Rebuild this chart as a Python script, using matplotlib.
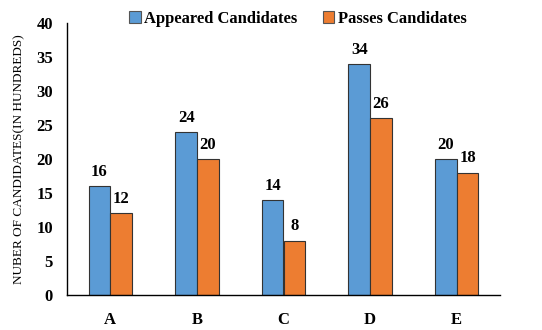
import matplotlib
matplotlib.use("Agg")
import matplotlib.pyplot as plt
import numpy as np

categories = ["A", "B", "C", "D", "E"]
appeared = [16, 24, 14, 34, 20]
passed = [12, 20, 8, 26, 18]
series_names = ["Appeared Candidates", "Passes Candidates"]
yticks = [0, 5, 10, 15, 20, 25, 30, 35, 40]

plt.rcParams['font.family'] = ['Liberation Serif', 'DejaVu Serif']

fig = plt.figure(figsize=(5.42, 3.30), dpi=100)
ax = fig.add_axes([67/542, 1-295/330, (500-67)/542, (295-23)/330])

x = np.arange(len(categories))
w = 0.25
b1 = ax.bar(x - w/2, appeared, w, color="#5b9bd5", edgecolor="#333333", linewidth=0.8, label=series_names[0])
b2 = ax.bar(x + w/2, passed, w, color="#ed7d31", edgecolor="#333333", linewidth=0.8, label=series_names[1])
for bars, vals in ((b1, appeared), (b2, passed)):
    for r, v in zip(bars, vals):
        ax.text(r.get_x() + r.get_width()/2, v + 0.9, str(v), ha="center", va="bottom",
                fontsize=12, fontweight="bold")

ax.set_xlim(-0.5, 4.5)
ax.set_ylim(0, 40)
ax.set_yticks(yticks)
ax.set_xticks(x)
ax.set_xticklabels(categories)
ax.tick_params(axis="both", length=0, labelsize=12, pad=10)
ax.tick_params(axis="x", pad=12)
for lbl in ax.get_xticklabels() + ax.get_yticklabels():
    lbl.set_fontweight("bold")
ax.spines["top"].set_visible(False)
ax.spines["right"].set_visible(False)
ax.spines["left"].set_linewidth(1.0)
ax.spines["bottom"].set_linewidth(1.0)
ax.set_ylabel("NUBER OF CANDIDATES(IN HUNDREDS)", fontsize=9.5, labelpad=8)

leg = ax.legend(loc="center", bbox_to_anchor=(298/542, 1-19/330), bbox_transform=fig.transFigure,
                ncol=2, frameon=False, prop={"size": 12, "weight": "bold"},
                handlelength=0.7, handleheight=0.7, handletextpad=0.2, columnspacing=1.5)
for h in leg.legend_handles:
    h.set_edgecolor("#555555")

fig.savefig("out.png", dpi=100)
